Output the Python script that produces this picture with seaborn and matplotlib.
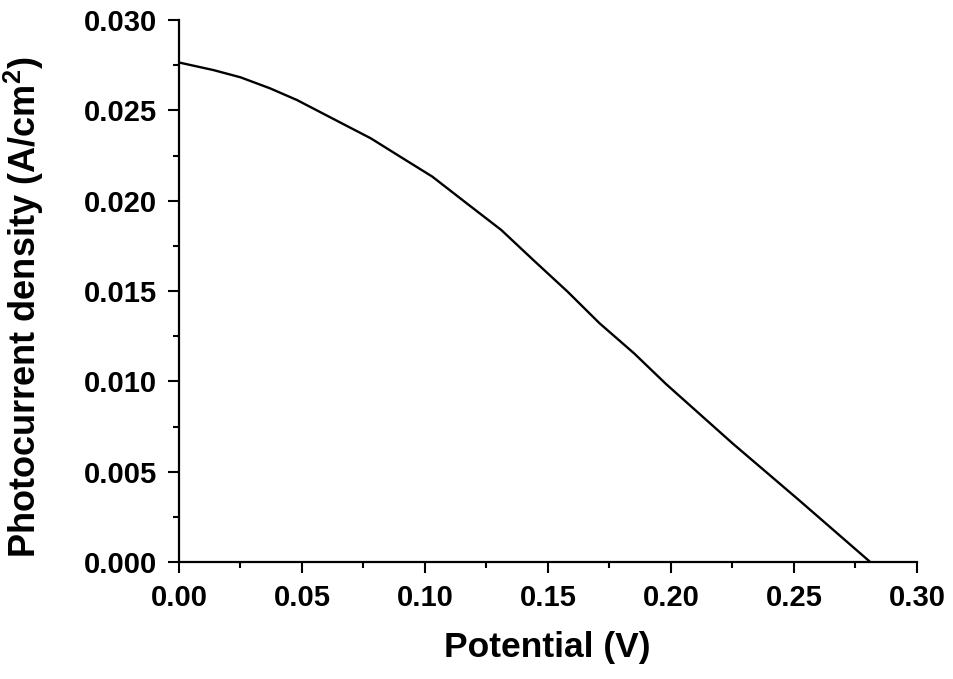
import seaborn as sns
import matplotlib.pyplot as plt
from matplotlib.ticker import MultipleLocator
import pandas as pd

# values
potential = [0.000, 0.014, 0.025, 0.037, 0.048, 0.061, 0.078, 0.090, 0.103, 0.117,
             0.131, 0.144, 0.158, 0.171, 0.185, 0.198, 0.225, 0.252, 0.281]
current_density = [0.02765, 0.02723, 0.02683, 0.02622, 0.02557, 0.02465, 0.02345, 0.02243,
                   0.02133, 0.01985, 0.01838, 0.01672, 0.01496, 0.01321, 0.01155, 0.00985,
                   0.00657, 0.00343, 0.0]
x_ticks = [0.00, 0.05, 0.10, 0.15, 0.20, 0.25, 0.30]
y_ticks = [0.000, 0.005, 0.010, 0.015, 0.020, 0.025, 0.030]

df = pd.DataFrame({'V': potential, 'J': current_density})

sns.set_style('ticks')
plt.rcParams['font.family'] = ['Liberation Sans', 'DejaVu Sans']
plt.rcParams['font.weight'] = 'bold'
plt.rcParams['text.color'] = 'black'
plt.rcParams['axes.labelcolor'] = 'black'
plt.rcParams['mathtext.fontset'] = 'custom'
plt.rcParams['mathtext.rm'] = 'Liberation Sans:bold'
plt.rcParams['mathtext.bf'] = 'Liberation Sans:bold'
plt.rcParams['mathtext.default'] = 'rm'

fig = plt.figure(figsize=(9.54, 6.79), dpi=100)
ax = fig.add_axes([0.1876, 0.1723, 0.7736, 0.7982])

sns.lineplot(data=df, x='V', y='J', color='black', linewidth=1.7, ax=ax, sort=False)

ax.set_xlim(0, 0.30)
ax.set_ylim(0, 0.030)
ax.set_xticks(x_ticks)
ax.set_yticks(y_ticks)
ax.set_xticklabels([f'{t:.2f}' for t in x_ticks])
ax.set_yticklabels([f'{t:.3f}' for t in y_ticks])
ax.xaxis.set_minor_locator(MultipleLocator(0.025))
ax.yaxis.set_minor_locator(MultipleLocator(0.0025))

ax.tick_params(which='major', direction='out', length=8, width=1.5, labelsize=21, pad=8,
               colors='black', labelcolor='black')
ax.tick_params(which='minor', direction='out', length=4.5, width=1.5, colors='black')

sns.despine(ax=ax)
for side in ['left', 'bottom']:
    ax.spines[side].set_linewidth(1.6)
    ax.spines[side].set_color('black')

ax.set_xlabel('Potential (V)', fontsize=25.5, fontweight='bold')
ax.set_ylabel('Photocurrent density (A/cm$^2$)', fontsize=26, fontweight='bold')
ax.xaxis.set_label_coords(0.4993, -0.128)
ax.yaxis.set_label_coords(-0.180, 0.47)

fig.savefig('out.png', dpi=100)
